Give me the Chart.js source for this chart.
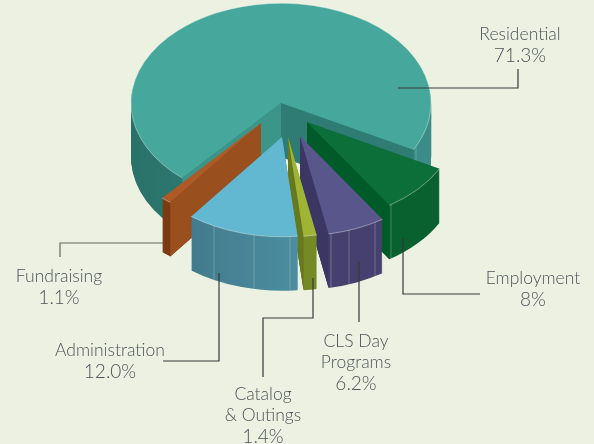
<!DOCTYPE html>
<html lang="en">

<head>
    <meta charset="UTF-8">
    <title>Budget Pie</title>
    <script src="https://cdn.jsdelivr.net/npm/chart.js"></script>
    <style>
        html, body { margin: 0; padding: 0; background: #edf1e2; }
        canvas { display: block; }
    </style>
</head>

<body>
    <canvas id="pie" width="594" height="444"></canvas>

    <script>
        // values, clockwise starting from the lower left edge of Residential
        const categories = ['Residential', 'Employment', 'CLS Day Programs', 'Catalog & Outings', 'Administration', 'Fundraising'];
        const shares = [71.3, 8, 6.2, 1.4, 12.0, 1.1];
        const shareLabels = ['71.3%', '8%', '6.2%', '1.4%', '12.0%', '1.1%'];

        const topColors = ['#46a89c', '#0c6e38', '#59568c', '#9fb334', '#62b8d0', '#ad5a26'];
        const wallLeft = ['#29726a', '#08612f', '#46406f', '#758a25', '#437b8e', '#7c3a10'];
        const wallRight = ['#3a8d88', '#08612f', '#46406f', '#758a25', '#4c8da0', '#7c3a10'];
        const startFaces = ['#3b9589', null, null, null, null, '#9a4f1e'];
        const endFaces = ['#2e7c74', '#005a2a', '#3c3663', '#66791f', null, null];

        // how the pie sits on the page
        const centerX = 281, centerY = 103, squash = 0.665, depth = 54, radius = 150;
        const shiftX = [0, 26, 19, 7, 1, -20];
        const shiftY = [0, 19, 33, 34, 34, 20];
        const drawOrder = [0, 5, 1, 2, 3, 4];
        // light streaks on the outer walls, page x
        const wallLines = [[416, 428], [391], [331, 349, 375], [], [214, 254, 290], [172]];

        const calloutLines = [
            { pts: [[398, 88], [518, 88], [518, 69]] },
            { pts: [[403, 238], [403, 294], [480, 294]] },
            { pts: [[359, 262], [359, 322]] },
            { pts: [[313, 278], [313, 318], [263, 318], [263, 377]] },
            { pts: [[219, 273], [219, 361], [163, 361]] },
            { pts: [[163, 243], [60, 243], [60, 257]], color: '#66665f' }
        ];
        const calloutText = [
            { x: 520, y: 34, lines: ['Residential', shareLabels[0]] },
            { x: 533, y: 278, lines: ['Employment', shareLabels[1]] },
            { x: 356, y: 341, lines: ['CLS Day', 'Programs', shareLabels[2]] },
            { x: 263, y: 394, lines: ['Catalog', '& Outings', shareLabels[3]] },
            { x: 110, y: 350, lines: ['Administration', shareLabels[4]] },
            { x: 59, y: 276, lines: ['Fundraising', shareLabels[5]] }
        ];

        function hexRgb(hex) {
            return [1, 3, 5].map(i => parseInt(hex.slice(i, i + 2), 16));
        }

        function mix(a, b, t) {
            const c = hexRgb(a), d = hexRgb(b);
            return '#' + c.map((v, i) => Math.round(v + (d[i] - v) * t).toString(16).padStart(2, '0')).join('');
        }

        function wallGradient(ctx, arc, i) {
            const toLocal = x => x - centerX - shiftX[i] + arc.x;
            const x0 = centerX + shiftX[i] + Math.min(Math.cos(arc.startAngle), Math.cos(arc.endAngle)) * radius;
            const x1 = centerX + shiftX[i] + Math.max(Math.cos(arc.startAngle), Math.cos(arc.endAngle)) * radius;
            const from = i === 0 ? centerX - radius : x0;
            const to = i === 0 ? centerX + radius : x1;
            const g = ctx.createLinearGradient(toLocal(from), 0, toLocal(to), 0);
            g.addColorStop(0, wallLeft[i]);
            g.addColorStop(1, wallRight[i]);
            wallLines[i].forEach(x => {
                const t = (x - from) / (to - from);
                if (t <= 0.01 || t >= 0.99) return;
                const w = 0.8 / (to - from);
                g.addColorStop(t - w, mix(wallLeft[i], wallRight[i], t - w));
                g.addColorStop(t, mix(mix(wallLeft[i], wallRight[i], t), '#c8d8d4', 0.4));
                g.addColorStop(t + w, mix(wallLeft[i], wallRight[i], t + w));
            });
            return g;
        }

        function place(ctx, arc, i, drop) {
            ctx.translate(centerX + shiftX[i], centerY + shiftY[i] + drop);
            ctx.scale(1, squash);
            ctx.translate(-arc.x, -arc.y);
        }

        function drawFace(ctx, i, angle, color) {
            const tipX = centerX + shiftX[i], tipY = centerY + shiftY[i];
            const edgeX = tipX + Math.cos(angle) * radius;
            const edgeY = tipY + Math.sin(angle) * radius * squash;
            ctx.fillStyle = color;
            ctx.beginPath();
            ctx.moveTo(tipX, tipY);
            ctx.lineTo(edgeX, edgeY);
            ctx.lineTo(edgeX, edgeY + depth);
            ctx.lineTo(tipX, tipY + depth);
            ctx.closePath();
            ctx.fill();
        }

        // tilts the library's arcs and stacks them to give the slices a thickness
        const tiltedPie = {
            id: 'tiltedPie',
            beforeDatasetDraw(chart, args) {
                const ctx = chart.ctx;
                const arcs = args.meta.data;
                drawOrder.forEach(i => {
                    const arc = arcs[i];
                    const base = arc.options;
                    arc.options = Object.create(base, { backgroundColor: { value: wallGradient(ctx, arc, i) } });
                    for (let d = depth; d >= 1; d--) {
                        ctx.save();
                        place(ctx, arc, i, d);
                        arc.draw(ctx);
                        ctx.restore();
                    }
                    arc.options = base;

                    if (startFaces[i] && Math.cos(arc.startAngle) < 0) drawFace(ctx, i, arc.startAngle, startFaces[i]);
                    if (endFaces[i] && Math.cos(arc.endAngle) > 0) drawFace(ctx, i, arc.endAngle, endFaces[i]);

                    ctx.save();
                    place(ctx, arc, i, 0);
                    arc.draw(ctx);
                    ctx.beginPath();
                    ctx.arc(arc.x, arc.y, arc.outerRadius, arc.startAngle, arc.endAngle);
                    ctx.restore();
                    ctx.strokeStyle = 'rgba(225,235,230,0.45)';
                    ctx.lineWidth = 1;
                    ctx.stroke();
                });
                return false;
            }
        };

        const callouts = {
            id: 'callouts',
            afterDraw(chart) {
                const ctx = chart.ctx;
                ctx.save();
                ctx.lineWidth = 1.2;
                calloutLines.forEach(line => {
                    ctx.strokeStyle = line.color || '#38383a';
                    ctx.beginPath();
                    line.pts.forEach((p, n) => n ? ctx.lineTo(p[0], p[1]) : ctx.moveTo(p[0], p[1]));
                    ctx.stroke();
                });
                ctx.fillStyle = '#4e5358';
                ctx.textAlign = 'center';
                ctx.textBaseline = 'middle';
                calloutText.forEach(t => {
                    t.lines.forEach((text, n) => {
                        // the percentages run a little wider than the names
                        ctx.font = n === t.lines.length - 1 ? '300 19px Lato' : '300 17.5px Lato';
                        ctx.fillText(text, t.x, t.y + n * 21.5);
                    });
                });
                ctx.restore();
            }
        };

        new Chart(document.getElementById('pie').getContext('2d'), {
            type: 'pie',
            data: {
                labels: categories,
                datasets: [{
                    data: shares,
                    backgroundColor: topColors,
                    borderWidth: 0,
                    radius: radius
                }]
            },
            options: {
                responsive: false,
                animation: false,
                rotation: 221.2,
                plugins: {
                    legend: { display: false },
                    tooltip: { enabled: false }
                }
            },
            plugins: [tiltedPie, callouts]
        });
    </script>
</body>

</html>
